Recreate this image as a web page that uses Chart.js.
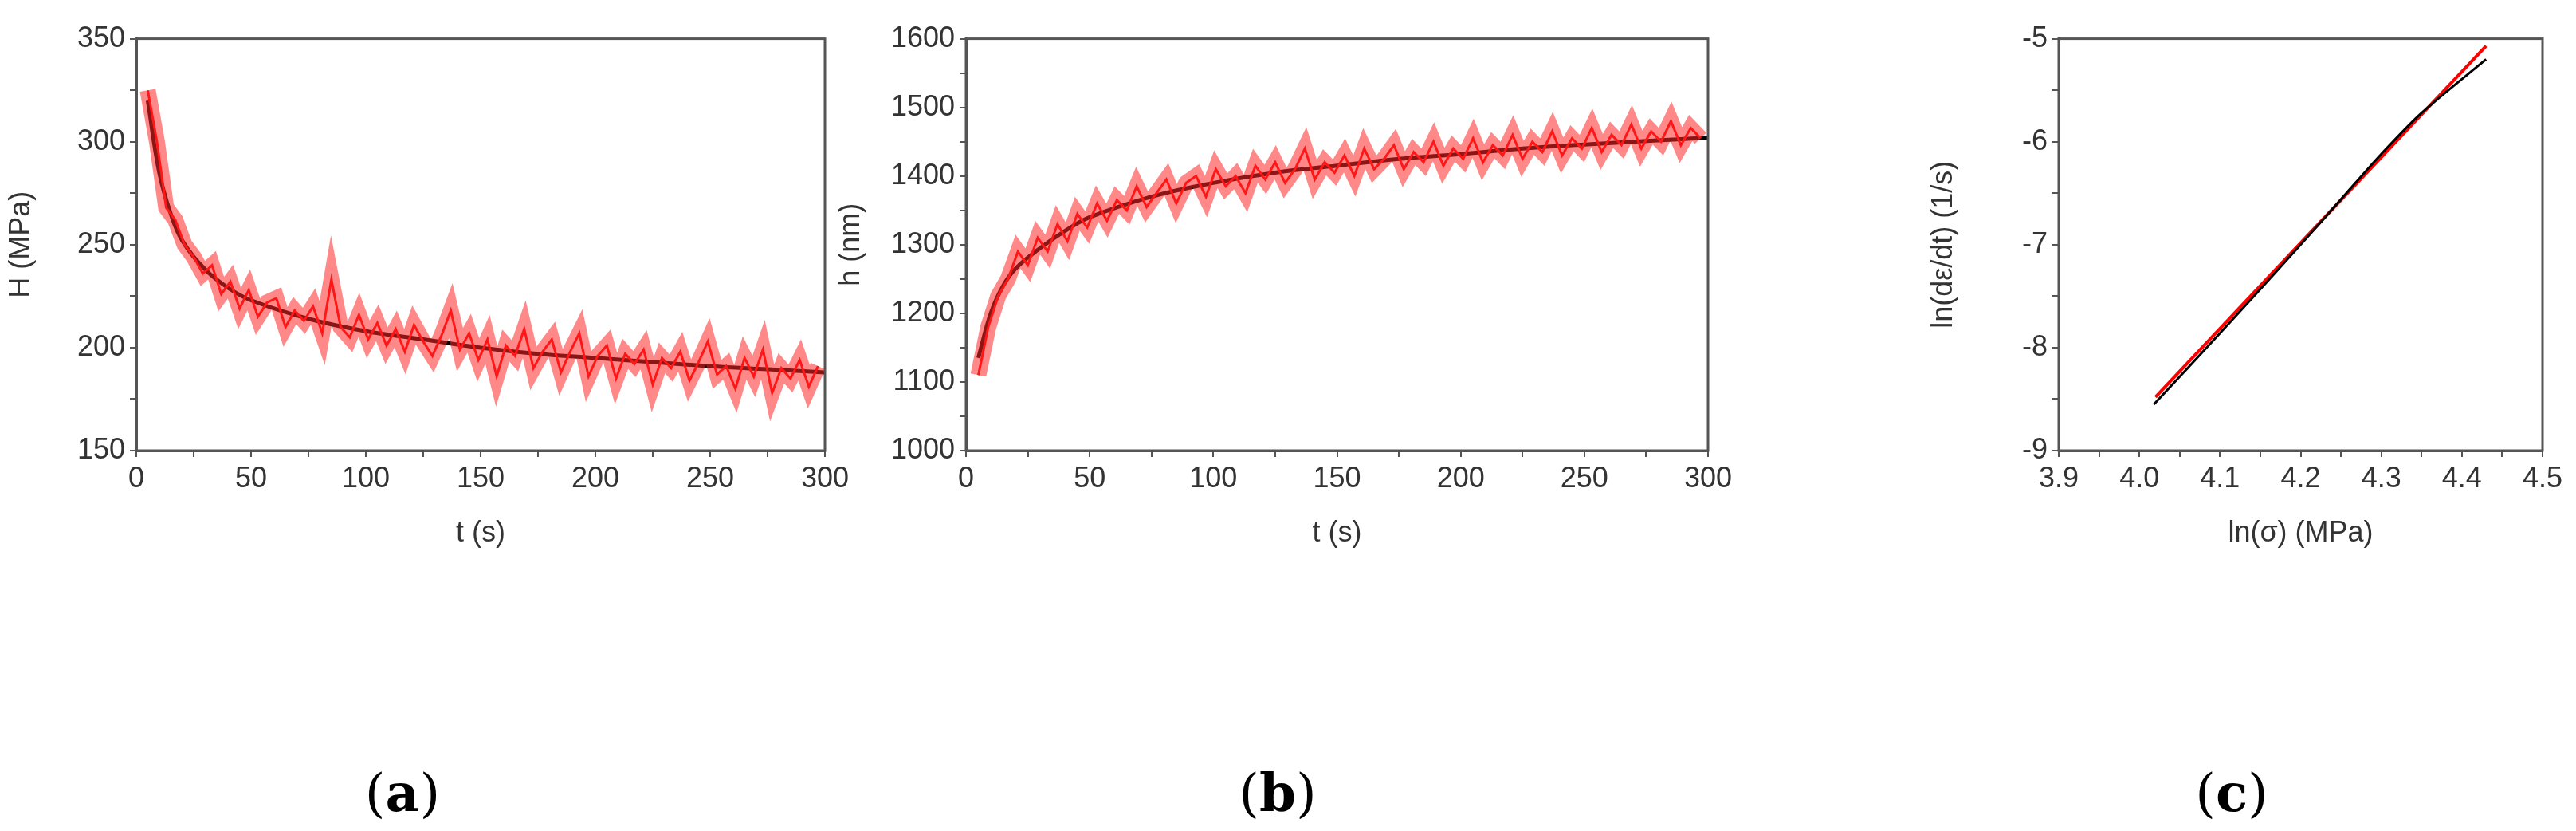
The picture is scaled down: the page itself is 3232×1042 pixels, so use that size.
<!DOCTYPE html>
<html><head><meta charset="utf-8">
<script src="https://cdn.jsdelivr.net/npm/chart.js@4"></script>
<style>
body{margin:0;width:3232px;height:1042px;background:#fff;position:relative;overflow:hidden}
.box{position:absolute}
.lab{position:absolute;top:955px;font:66px "DejaVu Serif",serif;color:#000;transform:translateX(-50%)}
.lab b{font-weight:bold}
</style></head><body>
<div class="box" id="ba"><canvas id="ca"></canvas></div>
<div class="box" id="bb"><canvas id="cb"></canvas></div>
<div class="box" id="bc"><canvas id="cc"></canvas></div>
<div class="lab" style="left:505px">(<b>a</b>)</div>
<div class="lab" style="left:1603px">(<b>b</b>)</div>
<div class="lab" style="left:2800px">(<b>c</b>)</div>
<script>
// (a) hardness vs time
const tNoise = [5,9,13,17,21,25,29,33,37,41,45,49,53,57,61,65,69,73,77,81,85,89,93,97,101,105,109,113,117,121,125,129,133,137,141,145,149,153,157,161,165,169,173,177,181,185,189,193,197,201,205,209,213,217,221,225,229,233,237,241,245,249,253,257,261,265,269,273,277,281,285,289,293,297];
const hNoise = [325,300,268,262,250,244,236,240,226,232,219,228,215,222,224,210,218,213,220,207,233,210,205,216,204,212,201,209,198,211,203,196,206,218,199,207,194,204,186,201,196,209,190,198,204,188,198,207,186,196,201,185,197,192,199,182,195,190,198,184,193,203,187,191,180,195,186,199,178,190,185,194,181,191];
const tFit = [5,10,15,20,30,40,50,75,100,125,150,175,200,225,250,275,300];
const hFit = [320,285,265,252,238,229,223,214,208,204,200,197,195,193,191,189.5,188];
// (b) depth vs time
const dNoise = [1110,1180,1225,1250,1290,1270,1310,1290,1330,1305,1345,1325,1360,1335,1365,1350,1385,1355,1375,1395,1360,1390,1400,1370,1410,1385,1400,1375,1415,1395,1420,1390,1410,1440,1395,1420,1405,1430,1400,1440,1410,1425,1445,1410,1435,1420,1450,1415,1440,1425,1455,1420,1445,1430,1460,1425,1450,1435,1465,1430,1455,1440,1470,1435,1460,1445,1475,1440,1465,1450,1480,1445,1470,1455];
const dFit = [1135,1200,1240,1265,1295,1320,1340,1370,1390,1405,1415,1425,1432,1440,1446,1451,1456];
// (c) ln strain rate vs ln stress
const lnSigData = [4.018,4.1,4.2,4.25,4.3,4.35,4.43];
const lnRateData = [-8.55,-7.86,-7.0,-6.56,-6.12,-5.72,-5.2];
const lnSigFit = [4.02,4.43];
const lnRateFit = [-8.48,-5.07];

const pts = (xs, ys) => xs.map((x, i) => ({x: x, y: ys[i]}));
const F = '"Liberation Sans", Arial, sans-serif';
const frame = {id:'frame', afterDraw(c){const a=c.chartArea,g=c.ctx;g.save();g.strokeStyle='#555';g.lineWidth=3;g.strokeRect(a.left,a.top,a.right-a.left,a.bottom-a.top);g.restore();}};

const TOP = 41, BOT = 565;
function place(id, left, right){
  const b = document.getElementById(id);
  b.style.left = (left-170)+'px'; b.style.top = (TOP-20)+'px';
  b.style.width = (right-left+170+60)+'px'; b.style.height = (BOT-TOP+20+130)+'px';
}
place('ba',171,1035); place('bb',1212,2143); place('bc',2583,3190);

function axis(title, min, max, step, every, dec, isY){
  return {type:'linear', min:min, max:max,
    title:{display:true, text:title, color:'#333', font:{family:F,size:36}, padding:isY?{bottom:8}:{top:4}},
    ticks:{stepSize:step, color:'#333', font:{family:F,size:36}, padding:6, autoSkip:false, maxRotation:0,
      callback:(v)=>{const k=Math.round((v-min)/step); return k%every===0 ? v.toFixed(dec) : '';}},
    grid:{drawOnChartArea:false, drawTicks:true, tickLength:8, color:'#555', lineWidth:2},
    border:{color:'#555', width:3},
    afterFit:(s)=>{ if(isY) s.width=170; else s.height=130; }};
}

function make(id, datasets, x, y){
  new Chart(document.getElementById(id), {type:'scatter', data:{datasets:datasets},
    options:{responsive:true, maintainAspectRatio:false, animation:false,
      layout:{padding:{top:20,right:60,left:0,bottom:0}},
      plugins:{legend:{display:false}, tooltip:{enabled:false}},
      elements:{point:{radius:0}},
      scales:{x:x, y:y}},
    plugins:[frame]});
}

make('ca', [
  {data:pts(tNoise,hNoise), showLine:true, borderColor:'rgba(255,40,40,0.55)', borderWidth:20},
  {data:pts(tNoise,hNoise), showLine:true, borderColor:'#ff0000', borderWidth:3},
  {data:pts(tFit,hFit), showLine:true, borderColor:'#000', borderWidth:5, tension:0.4}
], axis('t (s)',0,300,25,2,0,false), axis('H (MPa)',150,350,25,2,0,true));

make('cb', [
  {data:pts(tNoise,dNoise), showLine:true, borderColor:'rgba(255,40,40,0.55)', borderWidth:20},
  {data:pts(tNoise,dNoise), showLine:true, borderColor:'#ff0000', borderWidth:3},
  {data:pts(tFit,dFit), showLine:true, borderColor:'#000', borderWidth:5, tension:0.4}
], axis('t (s)',0,300,25,2,0,false), axis('h (nm)',1000,1600,50,2,0,true));

make('cc', [
  {data:pts(lnSigData,lnRateData), showLine:true, borderColor:'#000', borderWidth:3, tension:0.3},
  {data:pts(lnSigFit,lnRateFit), showLine:true, borderColor:'#ff0000', borderWidth:4}
], axis('ln(σ) (MPa)',3.9,4.5,0.05,2,1,false), axis('ln(dε/dt) (1/s)',-9,-5,0.5,2,0,true));
</script>
</body></html>
